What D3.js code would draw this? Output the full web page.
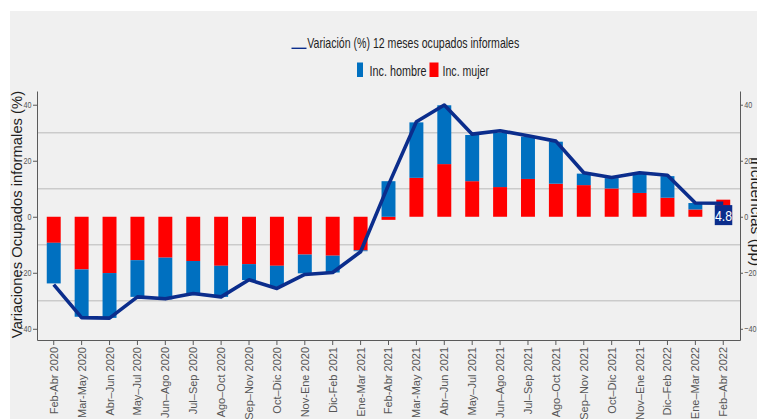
<!DOCTYPE html>
<html>
<head>
<meta charset="utf-8">
<script src="https://cdn.jsdelivr.net/npm/d3@7"></script>
<style>
  html, body { margin: 0; padding: 0; background: #ffffff; }
  svg { display: block; }
</style>
</head>
<body>
<svg id="chart" width="757" height="419"></svg>
<script>
const categories = [
  "Feb-Abr 2020", "Mar-May 2020", "Abr\u2013Jun 2020", "May\u2013Jul 2020", "Jun\u2013Ago 2020",
  "Jul\u2013Sep 2020", "Ago\u2013Oct 2020", "Sep\u2013Nov 2020", "Oct\u2013Dic 2020", "Nov-Ene 2020",
  "Dic-Feb 2021", "Ene-Mar 2021", "Feb-Abr 2021", "Mar-May 2021", "Abr\u2013Jun 2021",
  "May\u2013Jul 2021", "Jun\u2013Ago 2021", "Jul\u2013Sep 2021", "Ago\u2013Oct 2021", "Sep\u2013Nov 2021",
  "Oct\u2013Dic 2021", "Nov\u2013Ene 2021", "Dic\u2013Feb 2022", "Ene\u2013Mar 2022", "Feb\u2013Abr 2022"
];
const incMujer = [-9.3, -18.8, -20.1, -15.5, -14.6, -15.8, -17.5, -16.9, -17.5, -13.5, -13.9, -12.0, -1.1,
  13.9, 18.8, 12.7, 10.6, 13.5, 11.8, 11.3, 10.1, 8.5, 6.8, 2.6, 6.1];
const incHombre = [-14.5, -16.9, -16.0, -13.1, -14.9, -12.2, -11.1, -5.7, -7.5, -6.7, -6.0, -0.3, 12.7,
  19.8, 21.0, 16.5, 19.4, 15.1, 15.0, 4.1, 3.7, 7.2, 7.7, 2.3, -1.3];
const variacionTotal = [-24.2, -36.0, -36.2, -28.6, -29.3, -27.4, -28.6, -22.5, -25.6, -20.6, -19.9, -12.5, 11.4,
  33.9, 39.9, 29.5, 30.7, 28.9, 27.0, 15.7, 14.0, 15.7, 14.8, 4.9, 4.8];
const yTicks = [-40, -20, 0, 20, 40];
const gridValues = [-30, -10, 10, 30];
const seriesNames = ["Inc. hombre", "Inc. mujer"];
const lineName = "Variaci\u00f3n (%) 12 meses ocupados informales";
const leftTitle = "Variaciones Ocupados informales (%)";
const rightTitle = "Incidencias (pp)";

const BLUE = "#0070c0", RED = "#ff0000", NAVY = "#0b2d8c", BG = "#f0f0f0";
const FONT = "'Liberation Sans', Arial, sans-serif";

// measure text with regular font and compress it to emulate a narrow face
const ctx = document.createElement("canvas").getContext("2d");
function narrowWidth(str, size, k) {
  ctx.font = `${size}px 'Liberation Sans', Arial, sans-serif`;
  return ctx.measureText(str).width * k;
}
function narrowText(sel, size, k = 0.82) {
  sel.attr("font-family", FONT).attr("font-size", size)
    .attr("lengthAdjust", "spacingAndGlyphs")
    .attr("textLength", function () { return narrowWidth(this.textContent, size, k); });
}

const svg = d3.select("#chart");
const L = 37, R = 740, T = 91, B = 340;

svg.append("rect").attr("x", 10).attr("y", 11).attr("width", 757 - 10).attr("height", 419 - 11).attr("fill", BG);

const x = d3.scaleBand().domain(categories).range([L, R]).paddingInner(0).paddingOuter(0.1);
const y = d3.scaleLinear().domain([-44, 44.9]).range([B, T]);

// gridlines
svg.append("g").selectAll("line").data(gridValues).join("line")
  .attr("x1", L).attr("x2", R)
  .attr("y1", d => y(d)).attr("y2", d => y(d))
  .attr("stroke", "#cbcbcb").attr("stroke-width", 1.4);

// stacked bars
const rows = categories.map((c, i) => ({ cat: c, mujer: incMujer[i], hombre: incHombre[i] }));
const stack = d3.stack().keys(["mujer", "hombre"]).offset(d3.stackOffsetDiverging);
const stacked = stack(rows);
const colors = { mujer: RED, hombre: BLUE };
const bw = x.bandwidth() * 0.5;

svg.append("g").selectAll("g").data(stacked).join("g")
  .attr("fill", d => colors[d.key])
  .selectAll("rect").data(d => d).join("rect")
  .attr("x", d => x(d.data.cat) + (x.bandwidth() - bw) / 2)
  .attr("width", bw)
  .attr("y", d => y(Math.max(d[0], d[1])))
  .attr("height", d => Math.abs(y(d[0]) - y(d[1])));

// line
const line = d3.line()
  .x((d, i) => x(categories[i]) + x.bandwidth() / 2)
  .y(d => y(d));
svg.append("path").datum(variacionTotal)
  .attr("d", line)
  .attr("fill", "none").attr("stroke", NAVY).attr("stroke-width", 3.6)
  .attr("stroke-linejoin", "round");

// axes
const axisColor = "#5a5a5a";
const styleAxis = g => {
  g.selectAll(".domain").attr("stroke", axisColor);
  g.selectAll(".tick line").attr("stroke", axisColor);
  g.selectAll(".tick text").attr("fill", "#555").call(narrowText, 9.5, 0.76);
};
svg.append("g").attr("transform", `translate(${L},0)`)
  .call(d3.axisLeft(y).tickValues(yTicks).tickSize(4).tickSizeOuter(0).tickPadding(1.5))
  .call(styleAxis);
svg.append("g").attr("transform", `translate(${R},0)`)
  .call(d3.axisRight(y).tickValues(yTicks).tickSize(3).tickSizeOuter(0).tickPadding(1.2))
  .call(styleAxis);
const xAxis = svg.append("g").attr("transform", `translate(0,${B})`)
  .call(d3.axisBottom(x).tickSize(5).tickSizeOuter(0));
xAxis.selectAll(".domain").attr("stroke", axisColor);
xAxis.selectAll(".tick line").attr("stroke", axisColor);
xAxis.selectAll(".tick text")
  .attr("font-family", FONT).attr("font-size", 11).attr("fill", "#555")
  .attr("transform", "rotate(-90)")
  .attr("x", -7).attr("y", 0).attr("dy", "0.36em")
  .attr("text-anchor", "end");

// end label
const lastI = categories.length - 1;
const lx = x(categories[lastI]) + x.bandwidth() / 2;
const ly = y(variacionTotal[lastI]);
svg.append("rect").attr("x", lx - 8.5).attr("y", ly + 1.8).attr("width", 17.5).attr("height", 20)
  .attr("fill", NAVY);
svg.append("text").attr("x", lx + 0.3).attr("y", ly + 17.5)
  .attr("text-anchor", "middle").attr("fill", "#fff")
  .text(d3.format(".1f")(variacionTotal[lastI]))
  .call(narrowText, 15);

// axis titles
svg.append("text")
  .attr("transform", `translate(21.5,${(T + B) / 2 - 1}) rotate(-90)`)
  .attr("text-anchor", "middle").attr("font-family", FONT).attr("font-size", 14.8)
  .attr("fill", "#1e1e1e").text(leftTitle);
svg.append("text")
  .attr("transform", `translate(751,${(T + B) / 2 - 4}) rotate(90)`)
  .attr("text-anchor", "middle").attr("font-family", FONT).attr("font-size", 15.5)
  .attr("fill", "#1e1e1e").text(rightTitle);

// legend
const lg = svg.append("g");
lg.append("line").attr("x1", 291.5).attr("x2", 306.5).attr("y1", 48.3).attr("y2", 48.3)
  .attr("stroke", NAVY).attr("stroke-width", 1.4);
lg.append("text").attr("x", 307.3).attr("y", 47.5)
  .attr("font-family", FONT).attr("font-size", 14.5).attr("fill", "#1e1e1e")
  .attr("textLength", 212).attr("lengthAdjust", "spacingAndGlyphs")
  .text(lineName);
lg.append("rect").attr("x", 357).attr("y", 62.5).attr("width", 6).attr("height", 14.5).attr("fill", BLUE);
lg.append("text").attr("x", 369.5).attr("y", 75.5)
  .attr("font-family", FONT).attr("font-size", 15).attr("fill", "#1e1e1e")
  .attr("textLength", 57).attr("lengthAdjust", "spacingAndGlyphs")
  .text(seriesNames[0]);
lg.append("rect").attr("x", 429.5).attr("y", 62.5).attr("width", 9).attr("height", 14.5).attr("fill", RED);
lg.append("text").attr("x", 442.5).attr("y", 75.5)
  .attr("font-family", FONT).attr("font-size", 15).attr("fill", "#1e1e1e")
  .attr("textLength", 46.5).attr("lengthAdjust", "spacingAndGlyphs")
  .text(seriesNames[1]);
</script>
</body>
</html>
